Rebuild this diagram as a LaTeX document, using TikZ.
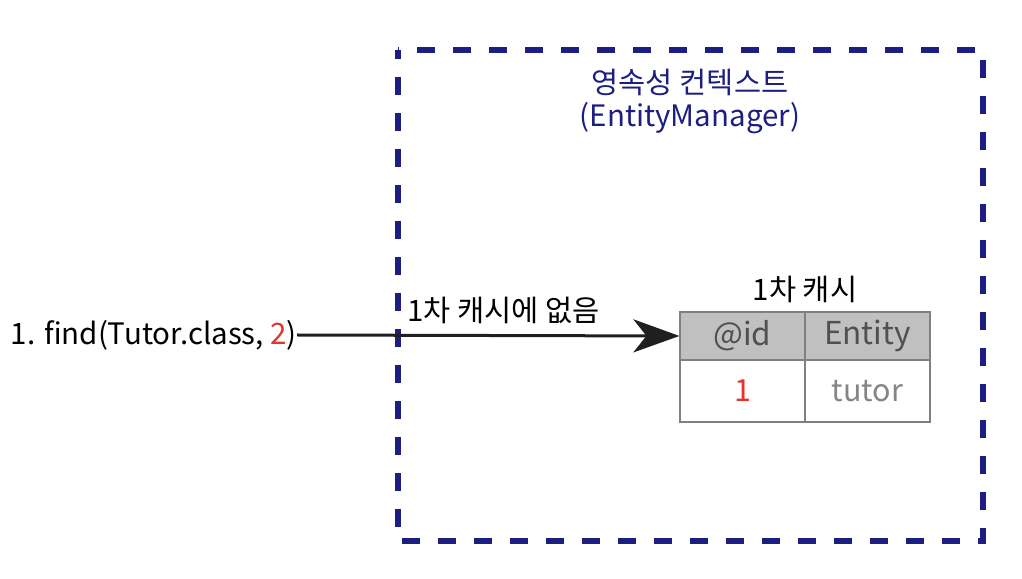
\documentclass[tikz,border=0pt]{standalone}
\usepackage{fontspec}
\setmainfont{Noto Sans CJK KR}
\usetikzlibrary{arrows.meta}
\definecolor{ctxblue}{RGB}{28,30,130}
\definecolor{cachered}{RGB}{230,50,45}
\definecolor{headgray}{RGB}{192,192,192}
\definecolor{linegray}{RGB}{128,128,128}
\definecolor{textgray}{RGB}{80,80,80}
\tikzset{
  big/.style={font=\fontsize{29.5}{34}\selectfont},
  cell/.style={draw=linegray,line width=1.2pt,minimum width=125pt,inner sep=0pt,big},
  headcell/.style={cell,fill=headgray,minimum height=48pt,text=textgray,font=\fontsize{31.5}{36}\selectfont},
  bodycell/.style={cell,fill=white,minimum height=62pt,text=textgray!70,font=\fontsize{30.5}{35}\selectfont}
}
\begin{document}
\begin{tikzpicture}[x=1pt,y=1pt]
 \useasboundingbox (0,0) rectangle (1022,578);
 % persistence context
 \draw[ctxblue,line width=6pt,dash pattern=on 18pt off 18pt,dash phase=9pt](398,528) rectangle (983,37);
 \node[ctxblue,big] (ctxtitle) at (690,496) {영속성 컨텍스트};
 \node[ctxblue,big] (ctxname) at (690,460) {(EntityManager)};
 % first level cache
 \node[headcell] (idhead) at (742.5,242) {@id};
 \node[headcell] (entityhead) at (867.5,242) {Entity};
 \node[bodycell,text=cachered] (idcell) at (742.5,187) {1};
 \node[bodycell] (entitycell) at (867.5,187) {tutor};
 \node[big] (cachetitle) at (805,289) {1차 캐시};
 % find call
 \node[anchor=east,inner sep=0pt,big] (find) at (297,243) {1. find(Tutor.class, {\color{cachered}2})};
 \draw[line width=3pt,-{Stealth[length=46pt,width=33pt,inset=13pt]},black!88](find.east)--(idhead.west)
   node[pos=0.54,above=7pt,big,black] (miss) {1차 캐시에 없음};
\end{tikzpicture}
\end{document}
